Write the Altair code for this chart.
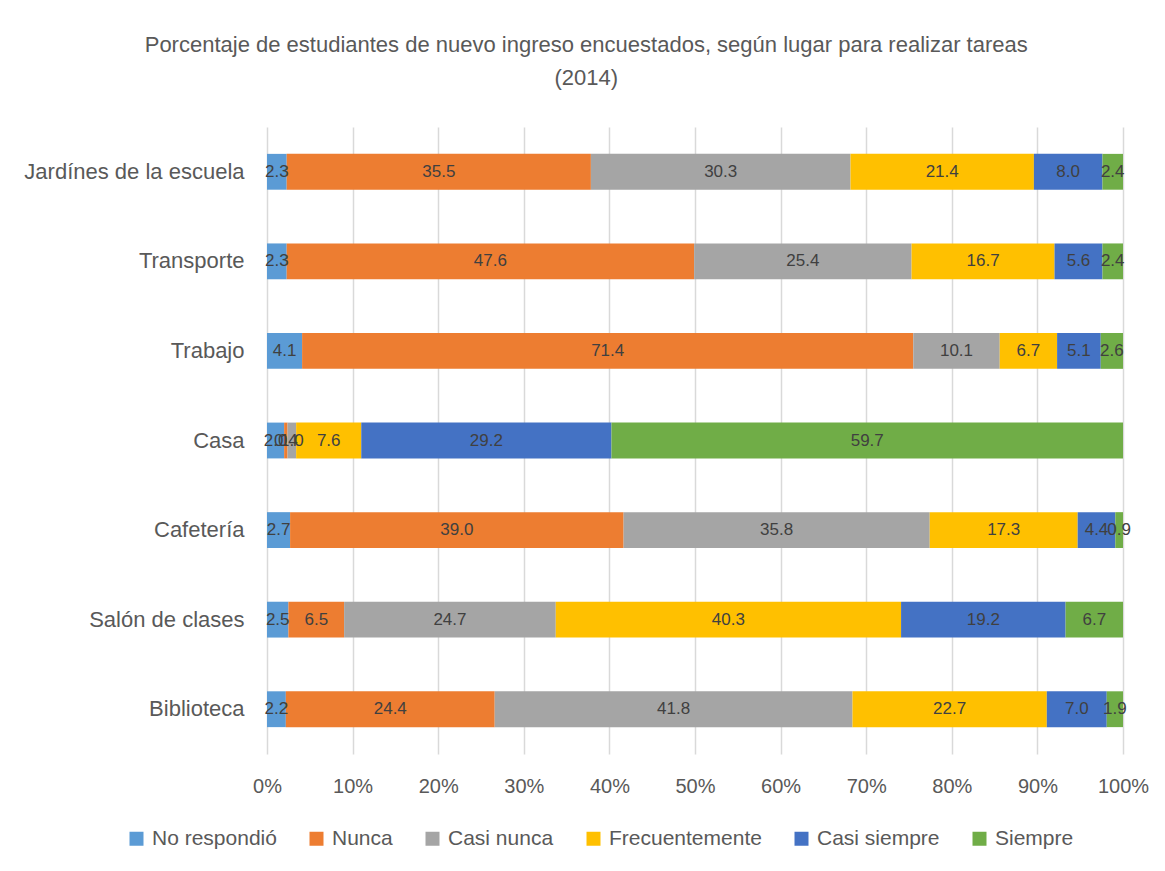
import altair as alt
import pandas as pd

places = ["Jardínes de la escuela", "Transporte", "Trabajo", "Casa",
          "Cafetería", "Salón de clases", "Biblioteca"]
categories = ["No respondió", "Nunca", "Casi nunca", "Frecuentemente",
              "Casi siempre", "Siempre"]
colors = ["#5B9BD5", "#ED7D31", "#A5A5A5", "#FFC000", "#4472C4", "#70AD47"]

no_respondio = [2.3, 2.3, 4.1, 2.0, 2.7, 2.5, 2.2]
nunca = [35.5, 47.6, 71.4, 0.4, 39.0, 6.5, 24.4]
casi_nunca = [30.3, 25.4, 10.1, 1.0, 35.8, 24.7, 41.8]
frecuentemente = [21.4, 16.7, 6.7, 7.6, 17.3, 40.3, 22.7]
casi_siempre = [8.0, 5.6, 5.1, 29.2, 4.4, 19.2, 7.0]
siempre = [2.4, 2.4, 2.6, 59.7, 0.9, 6.7, 1.9]

series = [no_respondio, nunca, casi_nunca, frecuentemente, casi_siempre, siempre]

rows = []
for i, p in enumerate(places):
    for j, c in enumerate(categories):
        rows.append({"lugar": p, "cat": c, "orden": j, "valor": series[j][i]})
df = pd.DataFrame(rows)

FONT = "Liberation Sans"

base = (
    alt.Chart(df)
    .transform_joinaggregate(total="sum(valor)", groupby=["lugar"])
    .transform_window(cum="sum(valor)", sort=[alt.SortField("orden")],
                      groupby=["lugar"], frame=[None, 0])
    .transform_calculate(
        start="(datum.cum - datum.valor) / datum.total",
        end="datum.cum / datum.total",
        mid="(datum.cum - datum.valor / 2) / datum.total",
    )
)

y_enc = alt.Y("lugar:N", sort=places, title=None,
              scale=alt.Scale(paddingInner=0.6, paddingOuter=0.3),
              axis=alt.Axis(labelFontSize=22, labelColor="#595959", labelFont=FONT,
                            labelPadding=23, ticks=False, domain=False, labelLimit=400))

bars = base.mark_bar().encode(
    x=alt.X("start:Q", title=None, scale=alt.Scale(domain=[0, 1]),
            axis=alt.Axis(format="%", values=[i / 10 for i in range(11)],
                          labelFontSize=20, labelColor="#595959", labelFont=FONT,
                          labelOverlap=False, labelFlush=False,
                          ticks=False, domain=False, grid=True, gridColor="#D9D9D9",
                          gridWidth=1.5, labelPadding=22)),
    x2="end:Q",
    y=y_enc,
    color=alt.Color("cat:N", scale=alt.Scale(domain=categories, range=colors),
                    sort=categories,
                    legend=alt.Legend(title=None, orient="none", direction="horizontal",
                                      legendX=-141, legendY=701,
                                      symbolType="square", symbolSize=196,
                                      symbolStrokeWidth=0,
                                      labelFontSize=21, labelColor="#595959",
                                      labelFont=FONT, columnPadding=29,
                                      labelOffset=5)),
    order=alt.Order("orden:Q"),
)

text = base.mark_text(fontSize=17, color="#404040", font=FONT).encode(
    x=alt.X("mid:Q"),
    y=alt.Y("lugar:N", sort=places),
    text=alt.Text("valor:Q", format=".1f"),
)

chart = (
    alt.layer(bars, text)
    .properties(
        width=856, height=627,
        title=alt.TitleParams(
            ["Porcentaje de estudiantes de nuevo ingreso encuestados, según lugar para realizar tareas",
             "(2014)"],
            fontSize=22, font=FONT, color="#595959", fontWeight="normal",
            anchor="middle", frame="bounds", offset=37, lineHeight=33),
        padding={"left": 15, "top": 26, "right": 4, "bottom": 4},
    )
    .configure_view(stroke=None)
)

chart.save("out.html", embed_options={"renderer": "svg", "actions": False})
